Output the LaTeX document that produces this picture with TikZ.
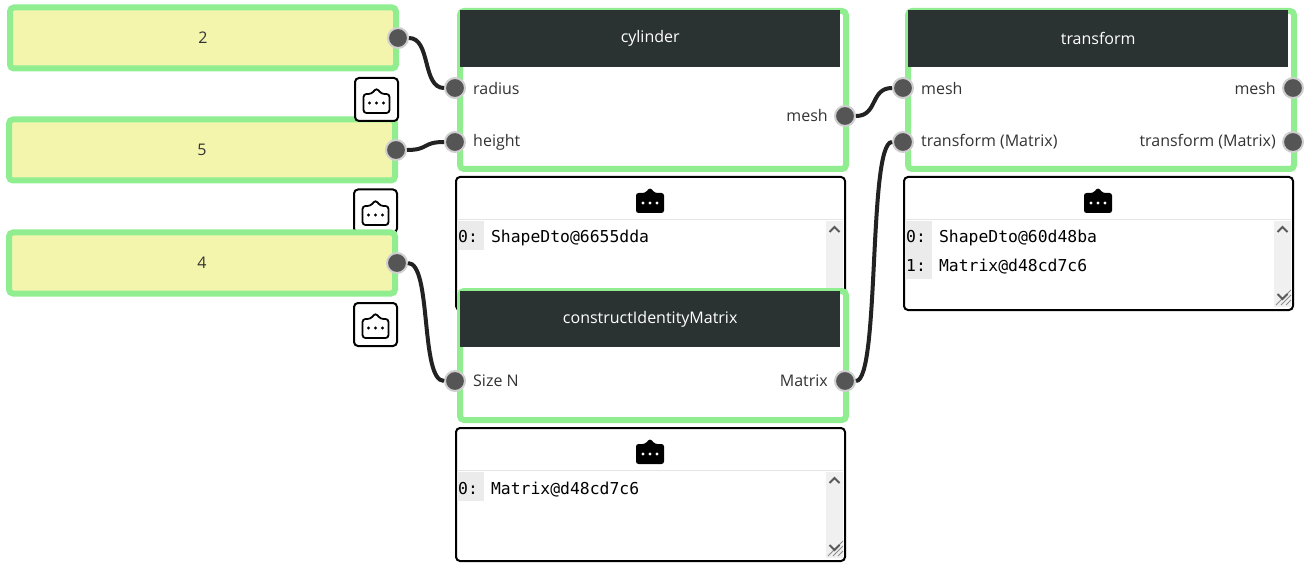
\documentclass[tikz,border=0pt]{standalone}
\usepackage{fontspec}
\setmainfont{Open Sans}
\newfontfamily\monof{DejaVu Sans Mono}
\definecolor{nodegreen}{HTML}{90EE90}
\definecolor{inyellow}{HTML}{F3F5AD}
\definecolor{headdark}{HTML}{2B3332}
\definecolor{portgray}{HTML}{555555}
\definecolor{portring}{HTML}{CFCFCF}
\definecolor{wirecol}{HTML}{222222}
\definecolor{txt}{HTML}{333333}
\definecolor{barcol}{HTML}{F0F0F0}
\tikzset{
  nodebox/.style={draw=nodegreen,line width=6pt,rounded corners=4pt,fill=white,inner sep=0pt,anchor=north west,minimum width=386pt},
  inbox/.style={draw=nodegreen,line width=6pt,rounded corners=4pt,fill=inyellow,inner sep=0pt,minimum width=386pt,minimum height=61pt,text=txt,font=\fontsize{16}{20}\selectfont},
  header/.style={fill=headdark,text=white,inner sep=0pt,anchor=north west,minimum width=380pt,font=\fontsize{16}{20}\selectfont},
  port/.style={circle,draw=portring,fill=portgray,line width=2pt,minimum size=20pt,inner sep=0pt},
  plabel/.style={text=txt,inner sep=0pt,font=\fontsize{16}{20}\selectfont},
  wire/.style={draw=wirecol,line width=4pt},
  panel/.style={draw=black,line width=2pt,rounded corners=4pt,fill=white,inner sep=0pt,anchor=north west,minimum width=389pt},
  iconbtn/.style={draw=black,line width=2pt,rounded corners=4pt,fill=white,inner sep=0pt,minimum size=43pt},
  mono/.style={inner sep=0pt,anchor=base west,text=black,font=\fontsize{16.4}{20}\monof},
  botline/.pic={
    \draw[black,line width=1.8pt,rounded corners=3pt,fill=white] (-13,-6) -- (-5,-6) -- (0,-12) -- (5,-6) -- (13,-6) -- (13,13) -- (-13,13) -- cycle;
    \fill[black] (-7,3) circle (1.6) (0,3) circle (1.6) (7,3) circle (1.6);
  },
  botfill/.pic={
    \fill[black,rounded corners=2.5pt] (-14,-7) -- (-5,-7) -- (0,-12.5) -- (5,-7) -- (14,-7) -- (14,13) -- (-14,13) -- cycle;
    \fill[white] (-7,3) circle (1.6) (0,3) circle (1.6) (7,3) circle (1.6);
  },
}
% panel furniture: x = left outer edge of panel path, y = top of panel path
\newcommand{\panelparts}[3]{% x, y, height of scrollbar area
  \begin{scope}[shift={(#1,#2)}]
    \pic at (195,24) {botfill};
    \draw[color=black!10,line width=1pt] (2,43.5) -- (388,43.5);
    \fill[barcol] (371,45) rectangle (388,#3);
    \draw[color=black!65,line width=2pt] (374.5,56) -- (379.5,51) -- (384.5,56);
  \end{scope}}
\newcommand{\resizer}[2]{%
  \begin{scope}[shift={(#1,#2)}]
    \draw[color=black!45,line width=1pt] (373,129) -- (388,114) (378,129) -- (388,119) (383,129) -- (388,124);
    \draw[color=black!65,line width=2pt] (374.5,118) -- (379.5,123) -- (384.5,118);
  \end{scope}}
\begin{document}
\begin{tikzpicture}[x=1pt,y=-1pt]
\useasboundingbox[fill=white] (0,0) rectangle (1308,569);

% output panels
\node[panel,minimum height=133pt] (outcyl) at (455,176) {};
\panelparts{455}{176}{133}
\fill[black!8] (457,221) rectangle (484,250);
\node[mono] (outcyl0) at (458,243) {0: ShapeDto@6655dda};

\node[panel,minimum height=133pt] (outtrans) at (903,176) {};
\panelparts{903}{176}{131}
\fill[black!8] (905,221) rectangle (932,279);
\node[mono] (outtrans0) at (906,243) {0: ShapeDto@60d48ba};
\node[mono] (outtrans1) at (906,272) {1: Matrix@d48cd7c6};
\resizer{903}{176}

\node[panel,minimum height=133pt] (outmat) at (455,427) {};
\panelparts{455}{427}{131}
\fill[black!8] (457,472) rectangle (484,501);
\node[mono] (outmat0) at (458,494) {0: Matrix@d48cd7c6};
\resizer{455}{427}

% input boxes and icon buttons
\node[iconbtn] (btnb) at (375.5,211) {};
\pic at (375.5,212) {botline};
\node[inbox] (in2) at (203,38) {2};
\node[inbox] (in5) at (202,150) {5};
\node[inbox] (in4) at (202,263) {4};
\node[iconbtn] (btna) at (376.5,99.5) {};
\pic at (376.5,100) {botline};
\node[iconbtn] (btnc) at (375.5,324.5) {};
\pic at (375.5,325) {botline};

% cylinder
\node[nodebox,minimum height=158pt] (cyl) at (457,8) {};
\node[header,minimum height=57pt] (cylh) at (460,10) {cylinder};
\node[plabel,anchor=west] (lradius) at (473,89) {radius};
\node[plabel,anchor=west] (lheight) at (473,142) {height};
\node[plabel,anchor=east] (lmesh) at (828,116) {mesh};

% transform
\node[nodebox,minimum height=158pt] (tr) at (905,8) {};
\node[header,minimum height=57pt] (trh) at (908,10) {transform};
\node[plabel,anchor=west] (ltm) at (921,89) {mesh};
\node[plabel,anchor=west] (ltt) at (921,142) {transform (Matrix)};
\node[plabel,anchor=east] (ltmo) at (1276,89) {mesh};
\node[plabel,anchor=east] (ltto) at (1276,142) {transform (Matrix)};

% constructIdentityMatrix
\node[nodebox,minimum height=129pt] (mat) at (457,288) {};
\node[header,minimum height=56pt] (math) at (460,291) {constructIdentityMatrix};
\node[plabel,anchor=west] (lsize) at (473,381) {Size N};
\node[plabel,anchor=east] (lmatrix) at (828,381) {Matrix};

% ports
\node[port] (p2) at (398,38) {};
\node[port] (p5) at (396,150) {};
\node[port] (p4) at (397,263) {};
\node[port] (pr) at (455,88) {};
\node[port] (ph) at (455,142) {};
\node[port] (pm) at (845,116) {};
\node[port] (tm) at (903,88) {};
\node[port] (tt) at (903,142) {};
\node[port] (tmo) at (1293,88) {};
\node[port] (tto) at (1293,142) {};
\node[port] (ps) at (455,381) {};
\node[port] (pmx) at (845,381) {};

% connectors
\draw[wire] (p2.east) .. controls +(22,0) and +(-22,0) .. (pr.west);
\draw[wire] (p5.east) .. controls +(22,0) and +(-22,0) .. (ph.west);
\draw[wire] (p4.east) .. controls +(24,0) and +(-24,0) .. (ps.west);
\draw[wire] (pm.east) .. controls +(22,0) and +(-22,0) .. (tm.west);
\draw[wire] (pmx.east) .. controls +(24,0) and +(-24,0) .. (tt.west);
\end{tikzpicture}
\end{document}
